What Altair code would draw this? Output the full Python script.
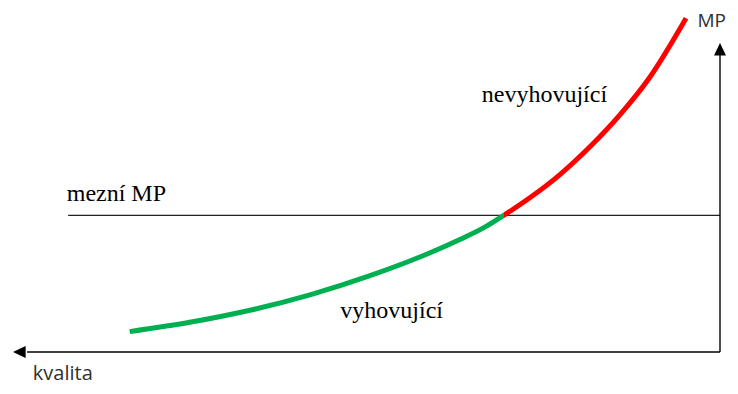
import altair as alt
import pandas as pd

# Curve: kvalita (quality, grows to the left) vs MP
green_k = [83.5, 75.0, 66.5, 58.0, 49.5, 41.0, 36.8, 33.2, 30.6]
green_m = [6.6, 9.6, 13.5, 18.5, 24.7, 32.1, 36.4, 40.5, 44.2]
red_k = [30.6, 26.9, 22.6, 18.4, 14.1, 9.9, 4.8]
red_m = [44.2, 49.9, 57.5, 66.4, 76.9, 89.0, 108.0]

limit_mp = 44.2
limit_from_k = 92.2

label_texts = ["mezní MP", "nevyhovující", "vyhovující"]
label_k = [92.4, 33.7, 53.7]
label_m = [49.0, 81.0, 11.0]

y_title, y_title_k, y_title_m = "MP", 3.2, 105.1
x_title, x_title_k, x_title_m = "kvalita", 97.2, -9.0

GREEN = "#00B050"
RED = "#FF0000"

xs = alt.Scale(domain=[0, 100], range=[712, 5])
ys = alt.Scale(domain=[0, 100], range=[344, 35])

def enc(ch):
    return ch.encode(x=alt.X("k:Q", scale=xs, axis=None), y=alt.Y("m:Q", scale=ys, axis=None))

# one continuous curve, coloured green up to the limit and red beyond it
curve_df = pd.DataFrame({"k": green_k + red_k[1:], "m": green_m + red_m[1:]})
split = (green_k[0] - red_k[0]) / (green_k[0] - red_k[-1])
grad = alt.LinearGradient(
    gradient="linear", x1=0, x2=1, y1=0, y2=0,
    stops=[
        alt.GradientStop(color=GREEN, offset=0),
        alt.GradientStop(color=GREEN, offset=split),
        alt.GradientStop(color=RED, offset=split),
        alt.GradientStop(color=RED, offset=1),
    ],
)
curve = enc(alt.Chart(curve_df).mark_line(stroke=grad, strokeWidth=5, interpolate="monotone", strokeCap="butt"))

limit_df = pd.DataFrame({"k": [limit_from_k], "k2": [0], "m": [limit_mp]})
limit = alt.Chart(limit_df).mark_rule(color="#222222", strokeWidth=1.3).encode(
    x=alt.X("k:Q", scale=xs, axis=None), x2="k2:Q",
    y=alt.Y("m:Q", scale=ys, axis=None),
)

axes_df = pd.DataFrame({"k": [0, 0], "k2": [98, 0], "m": [0, 0], "m2": [0, 98]})
axes = alt.Chart(axes_df).mark_rule(color="black", strokeWidth=1.4).encode(
    x=alt.X("k:Q", scale=xs, axis=None), x2="k2:Q",
    y=alt.Y("m:Q", scale=ys, axis=None), y2="m2:Q",
)

left_arrow = enc(alt.Chart(pd.DataFrame({"k": [100], "m": [0]})).mark_point(
    shape="M0,0L2.1,-1L2.1,1Z", size=144, filled=True, color="black", opacity=1, strokeWidth=0
))
up_arrow = enc(alt.Chart(pd.DataFrame({"k": [0], "m": [100]})).mark_point(
    shape="M0,0L1,2.1L-1,2.1Z", size=144, filled=True, color="black", opacity=1, strokeWidth=0
))

labels_df = pd.DataFrame({"t": label_texts, "k": label_k, "m": label_m})
labels = enc(alt.Chart(labels_df).mark_text(
    font="Liberation Serif", fontSize=24, align="left", baseline="alphabetic", color="black"
)).encode(text="t:N")

ytitle = enc(alt.Chart(pd.DataFrame({"t": [y_title], "k": [y_title_k], "m": [y_title_m]})).mark_text(
    font="Open Sans", fontSize=19, align="left", baseline="alphabetic", color="#303030"
)).encode(text="t:N")
xtitle = enc(alt.Chart(pd.DataFrame({"t": [x_title], "k": [x_title_k], "m": [x_title_m]})).mark_text(
    font="Open Sans", fontSize=20, align="left", baseline="alphabetic", color="#303030"
)).encode(text="t:N")

chart = alt.layer(
    limit, axes, left_arrow, up_arrow, curve, labels, ytitle, xtitle
).properties(
    width=722, height=378, padding=0, autosize=alt.AutoSizeParams(type="none")
).configure_view(stroke=None)

chart.save("out.html", embed_options={"renderer": "svg", "actions": False})
